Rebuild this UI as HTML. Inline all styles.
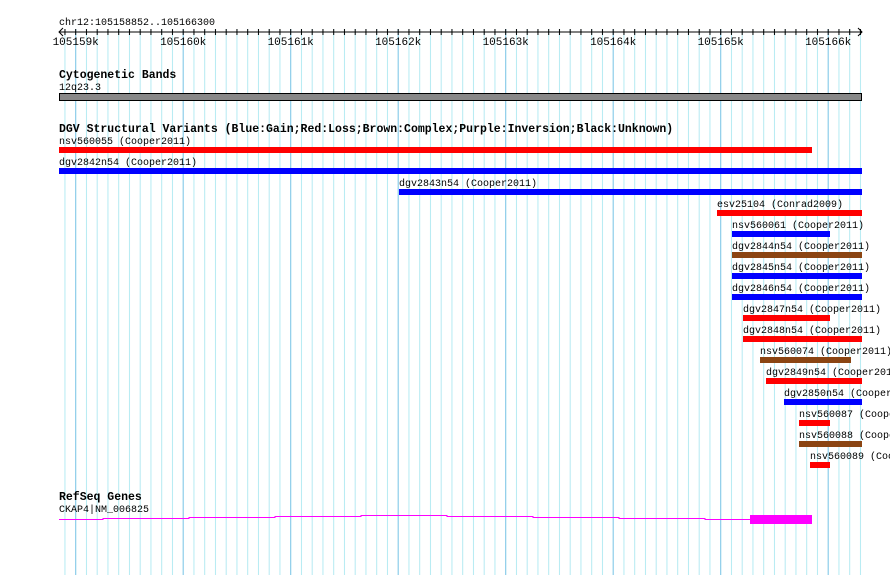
<!DOCTYPE html>
<html><head><style>
body{margin:0;background:#fff;}
svg text{font-family:"Liberation Mono",monospace;font-size:10px;fill:#000;}
svg text.b{font-weight:bold;font-size:11.5px;}
svg text.t{font-size:11px;}
</style></head><body>
<svg width="890" height="575" xmlns="http://www.w3.org/2000/svg">
<defs>
<pattern id="minor" patternUnits="userSpaceOnUse" x="64.45" y="0" width="10.75" height="575">
<rect x="0" y="0" width="1" height="575" fill="#b4eaf2"/>
</pattern>
<pattern id="tick" patternUnits="userSpaceOnUse" x="64.45" y="0" width="10.75" height="575">
<rect x="0" y="0" width="1" height="575" fill="#000"/>
</pattern>
</defs>
<rect x="60" y="29" width="802" height="546" fill="url(#minor)"/>
<g fill="#86c8e8">
<rect x="75.2" y="29" width="1" height="546"/>
<rect x="182.7" y="29" width="1" height="546"/>
<rect x="290.2" y="29" width="1" height="546"/>
<rect x="397.7" y="29" width="1" height="546"/>
<rect x="505.2" y="29" width="1" height="546"/>
<rect x="612.7" y="29" width="1" height="546"/>
<rect x="720.2" y="29" width="1" height="546"/>
<rect x="827.7" y="29" width="1" height="546"/>
</g>
<rect x="60" y="29" width="802" height="6" fill="url(#tick)"/>
<rect x="59" y="31.5" width="803" height="1" fill="#000"/>
<path d="M63,28 L59,32 L63,36 M858,28 L862,32 L858,36" stroke="#000" fill="none"/>
<text x="59" y="25">chr12:105158852..105166300</text>
<g class="t">
<text class="t" x="75.7" y="45" text-anchor="middle">105159k</text>
<text class="t" x="183.2" y="45" text-anchor="middle">105160k</text>
<text class="t" x="290.7" y="45" text-anchor="middle">105161k</text>
<text class="t" x="398.2" y="45" text-anchor="middle">105162k</text>
<text class="t" x="505.7" y="45" text-anchor="middle">105163k</text>
<text class="t" x="613.2" y="45" text-anchor="middle">105164k</text>
<text class="t" x="720.7" y="45" text-anchor="middle">105165k</text>
<text class="t" x="828.2" y="45" text-anchor="middle">105166k</text>
</g>
<text class="b" x="59" y="78">Cytogenetic Bands</text>
<text x="59" y="90">12q23.3</text>
<rect x="59.5" y="93.5" width="802" height="7" fill="#888" stroke="#000"/>
<text class="b" x="59" y="132">DGV Structural Variants (Blue:Gain;Red:Loss;Brown:Complex;Purple:Inversion;Black:Unknown)</text>
<g>
<text x="59" y="144">nsv560055 (Cooper2011)</text><rect x="59" y="147" width="753" height="6" fill="#f00"/>
<text x="59" y="165">dgv2842n54 (Cooper2011)</text><rect x="59" y="168" width="803" height="6" fill="#00f"/>
<text x="399" y="186">dgv2843n54 (Cooper2011)</text><rect x="399" y="189" width="463" height="6" fill="#00f"/>
<text x="717" y="207">esv25104 (Conrad2009)</text><rect x="717" y="210" width="145" height="6" fill="#f00"/>
<text x="732" y="228">nsv560061 (Cooper2011)</text><rect x="732" y="231" width="98" height="6" fill="#00f"/>
<text x="732" y="249">dgv2844n54 (Cooper2011)</text><rect x="732" y="252" width="130" height="6" fill="#8b4513"/>
<text x="732" y="270">dgv2845n54 (Cooper2011)</text><rect x="732" y="273" width="130" height="6" fill="#00f"/>
<text x="732" y="291">dgv2846n54 (Cooper2011)</text><rect x="732" y="294" width="130" height="6" fill="#00f"/>
<text x="743" y="312">dgv2847n54 (Cooper2011)</text><rect x="743" y="315" width="87" height="6" fill="#f00"/>
<text x="743" y="333">dgv2848n54 (Cooper2011)</text><rect x="743" y="336" width="119" height="6" fill="#f00"/>
<text x="760" y="354">nsv560074 (Cooper2011)</text><rect x="760" y="357" width="91" height="6" fill="#8b4513"/>
<text x="766" y="375">dgv2849n54 (Cooper2011)</text><rect x="766" y="378" width="96" height="6" fill="#f00"/>
<text x="784" y="396">dgv2850n54 (Cooper2011)</text><rect x="784" y="399" width="78" height="6" fill="#00f"/>
<text x="799" y="417">nsv560087 (Cooper2011)</text><rect x="799" y="420" width="31" height="6" fill="#f00"/>
<text x="799" y="438">nsv560088 (Cooper2011)</text><rect x="799" y="441" width="63" height="6" fill="#8b4513"/>
<text x="810" y="459">nsv560089 (Cooper2011)</text><rect x="810" y="462" width="20" height="6" fill="#f00"/>
</g>
<text class="b" x="59" y="500">RefSeq Genes</text>
<text x="59" y="512">CKAP4|NM_006825</text>
<path d="M59,519.5H103V518.5H189V517.5H275V516.5H361V515.5H447V516.5H533V517.5H619V518.5H705V519.5H750" stroke="#f0f" fill="none"/>
<rect x="750" y="515" width="62" height="9" fill="#f0f"/>
</svg>
</body></html>
